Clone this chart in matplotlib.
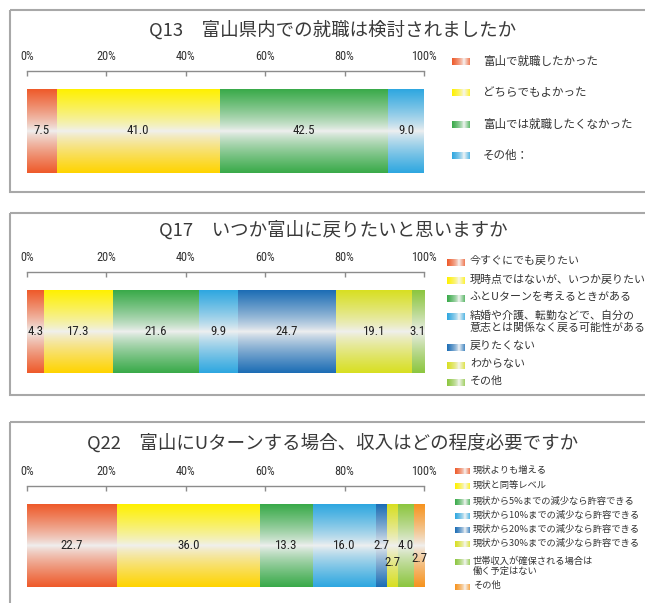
import numpy as np
import matplotlib
matplotlib.use("Agg")
import matplotlib.pyplot as plt
from matplotlib.patches import Rectangle
from matplotlib.colors import to_rgb
import matplotlib.font_manager as fm

# ---------------- data ----------------
q13_title = "Q13\u3000富山県内での就職は検討されましたか"
q13_labels = ["富山で就職したかった", "どちらでもよかった", "富山では就職したくなかった", "その他："]
q13_values = [7.5, 41.0, 42.5, 9.0]

q17_title = "Q17\u3000いつか富山に戻りたいと思いますか"
q17_labels = ["今すぐにでも戻りたい", "現時点ではないが、いつか戻りたい", "ふとUターンを考えるときがある",
              "結婚や介護、転勤などで、自分の\n意志とは関係なく戻る可能性がある", "戻りたくない", "わからない", "その他"]
q17_values = [4.3, 17.3, 21.6, 9.9, 24.7, 19.1, 3.1]

q22_title = "Q22\u3000富山にUターンする場合、収入はどの程度必要ですか"
q22_labels = ["現状よりも増える", "現状と同等レベル", "現状から5%までの減少なら許容できる",
              "現状から10%までの減少なら許容できる", "現状から20%までの減少なら許容できる",
              "現状から30%までの減少なら許容できる", "世帯収入が確保される場合は\n働く予定はない", "その他"]
q22_values = [22.7, 36.0, 13.3, 16.0, 2.7, 2.7, 4.0, 2.7]

tick_values = [0, 20, 40, 60, 80, 100]
tick_labels = ["0%", "20%", "40%", "60%", "80%", "100%"]

# ---------------- styles ----------------
RED = ("#EE5A2A", "#EE5A2A")
YEL = ("#FFF100", "#FFD400")
GRN = ("#39AA49", "#39AA49")
LBL = ("#2EA7E0", "#2EA7E0")
DBL = ("#1C6DB5", "#1C6DB5")
YGR = ("#D8DF21", "#D8DF21")
LGR = ("#8CC63F", "#8CC63F")
ORG = ("#F7931E", "#F7931E")
CENTER = "#F0F0F0"

q13_colors = [RED, YEL, GRN, LBL]
q17_colors = [RED, YEL, GRN, LBL, DBL, YGR, LGR]
q22_colors = [RED, YEL, GRN, LBL, DBL, YGR, LGR, ORG]
q22_label_dy = [0, 0, 0, 0, 0, 17, 0, 13]   # pixel offsets of value labels

names = {f.name for f in fm.fontManager.ttflist}
NARROW = None
for cand in ["Liberation Sans Narrow", "Arial Narrow", "DejaVu Sans Condensed", "Roboto Condensed"]:
    if cand in names:
        NARROW = cand
        break
if NARROW:
    NUM_FONT = [NARROW, "Liberation Sans"]
    NUM_SIZE, TICK_SIZE = 9.3, 8.8
else:
    NUM_FONT = ["Liberation Sans"]
    NUM_SIZE, TICK_SIZE = 8.6, 8.0
JP = ["Noto Sans CJK JP", "DejaVu Sans"]

W, H = 645, 603
DPI = 100
fig = plt.figure(figsize=(W / DPI, H / DPI), dpi=DPI)
fig.patch.set_facecolor("white")

X0, X1 = 27, 424   # pixel extent of the 0..100 % scale


def vgrad(c_top, c_bot, n=200, p=0.8):
    top, bot, cen = np.array(to_rgb(c_top)), np.array(to_rgb(c_bot)), np.array(to_rgb(CENTER))
    y = np.linspace(0, 1, n)
    img = np.zeros((n, 1, 3))
    for i, yy in enumerate(y):
        if yy < 0.5:
            t = (1 - yy / 0.5) ** p
            img[i, 0] = cen + (top - cen) * t
        else:
            t = ((yy - 0.5) / 0.5) ** p
            img[i, 0] = cen + (bot - cen) * t
    return img


def hgrad(c, n=100, wpos=0.65):
    col, cen = np.array(to_rgb(c)), np.array(to_rgb("#F6F6F6"))
    x = np.linspace(0, 1, n)
    img = np.zeros((1, n, 3))
    for i, xx in enumerate(x):
        if xx < wpos:
            t = 1 - xx / wpos
            img[0, i] = cen + (col - cen) * t ** 0.6
        else:
            t = (xx - wpos) / (1 - wpos)
            img[0, i] = cen + (col - cen) * 0.8 * t
    return img


# overlay axes in pixel coordinates for boxes, titles and legends
ov = fig.add_axes([0, 0, 1, 1], zorder=5)
ov.set_axis_off()


def draw_panel(title, labels, values, colors, box, title_y, bar_top, bar_bot,
               leg, label_dy=None):
    y0, y1 = box
    ov.add_patch(Rectangle((10, y0), 700, y1 - y0, fill=False, ec="#A8A8A8", lw=1.5, clip_on=False))
    ov.text(333, title_y, title, ha="center", va="center", fontsize=13.3, color="#3A3A3A", family=JP)

    ax = fig.add_axes([X0 / W, 1 - bar_bot / H, (X1 - X0) / W, (bar_bot - bar_top) / H])
    lefts = np.concatenate([[0], np.cumsum(values)[:-1]])
    bars = ax.barh(0, values, left=lefts, height=1.0, color=[c[0] for c in colors], linewidth=0)
    for b, c in zip(bars, colors):
        x = b.get_x()
        im = ax.imshow(vgrad(c[0], c[1]), extent=(x, x + b.get_width(), -0.5, 0.5),
                       aspect="auto", interpolation="bilinear", origin="upper", zorder=1.5)
        im.set_clip_path(b)
    ax.set_xlim(0, 100)
    ax.set_ylim(-0.5, 0.5)
    ax.set_yticks([])
    ax.xaxis.tick_top()
    ax.set_xticks(tick_values, tick_labels)
    for s in ["bottom", "left", "right"]:
        ax.spines[s].set_visible(False)
    ax.spines["top"].set_position(("outward", 18 * 72 / DPI))
    ax.spines["top"].set_color("#8C8C8C")
    ax.spines["top"].set_linewidth(1.0)
    ax.tick_params(axis="x", direction="in", length=3.5, width=1.0, color="#8C8C8C",
                   pad=6.0, labelsize=TICK_SIZE, labelcolor="#333333")
    for t in ax.get_xticklabels():
        t.set_family(NUM_FONT)
    ax.set_facecolor("none")

    bar_h_px = bar_bot - bar_top
    for i, (b, v) in enumerate(zip(bars, values)):
        dy = 0 if label_dy is None else label_dy[i]
        ax.text(b.get_x() + b.get_width() / 2, -dy / bar_h_px, f"{v:.1f}", ha="center", va="center",
                fontsize=NUM_SIZE, family=NUM_FONT, color="#222222", zorder=4)

    mx0, mx1, mh, tx, rows, fs, ls = leg
    for lab, c, ry in zip(labels, colors, rows):
        ov.imshow(hgrad(c[0]), extent=(mx0, mx1, ry + mh / 2, ry - mh / 2), aspect="auto",
                  interpolation="bilinear", origin="upper")
        fs_px = fs * DPI / 72
        ov.text(tx, ry - 0.62 * fs_px, lab, ha="left", va="top", fontsize=fs, color="#333333",
                family=JP, linespacing=ls, clip_on=False)


draw_panel(q13_title, q13_labels, q13_values, q13_colors, (10, 192), 30, 89, 173,
           (452, 470, 7, 483, [62, 93, 125, 156], 8.3, 1.2))
draw_panel(q17_title, q17_labels, q17_values, q17_colors, (213, 395), 230, 290, 373,
           (447, 465, 7, 470, [263, 281, 299, 317, 348, 366, 383], 7.9, 1.15))
draw_panel(q22_title, q22_labels, q22_values, q22_colors, (422, 700), 443, 504, 587,
           (455, 470, 6, 473, [471, 486, 502, 516, 530, 544, 562, 587], 6.7, 1.1),
           label_dy=q22_label_dy)

ov.set_xlim(0, W)
ov.set_ylim(H, 0)

fig.savefig("out.png", dpi=DPI, facecolor="white")
